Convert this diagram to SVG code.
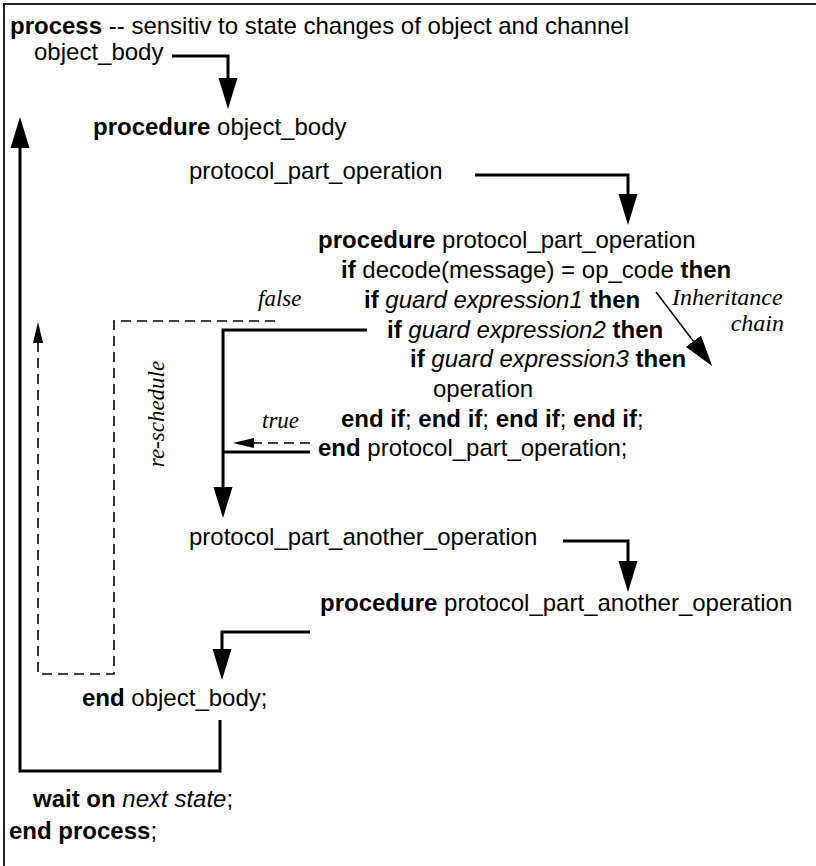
<svg xmlns="http://www.w3.org/2000/svg" width="816" height="866" viewBox="0 0 816 866">
<style>
  text { font-family: "Liberation Sans", Arial, Helvetica, sans-serif; font-size: 24px; fill: #000; }
  .b { font-weight: bold; }
  .i { font-style: italic; }
  .lbl { font-family: "Liberation Serif", "Times New Roman", serif; font-style: italic; font-size: 23px; }
  .lbl.big { font-size: 24px; }
  .frame { fill: none; stroke: #222; stroke-width: 2; }
  .flow { fill: none; stroke: #000; stroke-width: 3; }
  .dash { fill: none; stroke: #000; stroke-width: 1.6; stroke-dasharray: 10 6; }
  .thin { fill: none; stroke: #000; stroke-width: 1.5; }
</style>
<defs>
  <!-- large filled head for the call / return flow -->
  <marker id="big" markerUnits="userSpaceOnUse" markerWidth="31" markerHeight="20" viewBox="0 0 31 20" refX="1" refY="10" orient="auto">
    <path d="M0,0.5 L31,10 L0,19.5 z" fill="#000"/>
  </marker>
  <!-- small head for dashed re-schedule / true paths -->
  <marker id="small" markerUnits="userSpaceOnUse" markerWidth="21" markerHeight="11" viewBox="0 0 21 11" refX="1" refY="5.5" orient="auto">
    <path d="M0,0.5 L21,5.5 L0,10.5 z" fill="#000"/>
  </marker>
  <!-- head for the inheritance chain -->
  <marker id="inh" markerUnits="userSpaceOnUse" markerWidth="31" markerHeight="20" viewBox="0 0 31 20" refX="1" refY="10" orient="auto">
    <path d="M0,0.5 L31,10 L0,19.5 z" fill="#000"/>
  </marker>
</defs>

<rect width="816" height="866" fill="#fff"/>
<!-- page frame (top and left edges) -->
<path class="frame" d="M4,866 V4 H816"/>

<g id="connectors">
  <path class="flow" d="M172,56 H228 V79" marker-end="url(#big)"/>
  <path class="flow" d="M475,175 H628 V195" marker-end="url(#big)"/>
  <path class="flow" d="M367,330 H223 V488" marker-end="url(#big)"/>
  <path class="flow" d="M310,452 H223"/>
  <path class="flow" d="M563,541 H628 V562" marker-end="url(#big)"/>
  <path class="flow" d="M310,632 H222 V650" marker-end="url(#big)"/>
  <path class="flow" d="M220,720 V771 H20 V147" marker-end="url(#big)"/>
  <path class="dash" d="M275,321 H114 V674 H38 V342" marker-end="url(#small)"/>
  <path class="dash" d="M310,443 H253" marker-end="url(#small)"/>
  <path class="thin" d="M656,292 L694,342" marker-end="url(#inh)"/>
</g>

<g id="process-head"><text x="10" y="34"><tspan class="b">process</tspan> -- sensitiv to state changes of object and channel</text></g>
<g id="call-object-body"><text x="34" y="60">object_body</text></g>
<g id="proc-object-body"><text x="93" y="135"><tspan class="b">procedure</tspan> object_body</text></g>
<g id="call-ppo"><text x="189" y="179">protocol_part_operation</text></g>

<g id="proc-ppo">
  <text x="318" y="248"><tspan class="b">procedure</tspan> protocol_part_operation</text>
  <text x="341" y="278"><tspan class="b">if</tspan> decode(message) = op_code <tspan class="b">then</tspan></text>
  <text x="364" y="308"><tspan class="b">if</tspan> <tspan class="i">guard expression1</tspan> <tspan class="b">then</tspan></text>
  <text x="387" y="338"><tspan class="b">if</tspan> <tspan class="i">guard expression2</tspan> <tspan class="b">then</tspan></text>
  <text x="410" y="367"><tspan class="b">if</tspan> <tspan class="i">guard expression3</tspan> <tspan class="b">then</tspan></text>
  <text x="433" y="397">operation</text>
  <text x="341" y="427"><tspan class="b">end if</tspan>; <tspan class="b">end if</tspan>; <tspan class="b">end if</tspan>; <tspan class="b">end if</tspan>;</text>
  <text x="318" y="456"><tspan class="b">end</tspan> protocol_part_operation;</text>
</g>

<g id="call-ppao"><text x="189" y="545">protocol_part_another_operation</text></g>
<g id="proc-ppao"><text x="320" y="611"><tspan class="b">procedure</tspan> protocol_part_another_operation</text></g>
<g id="end-object-body"><text x="82" y="706"><tspan class="b">end</tspan> object_body;</text></g>
<g id="wait"><text x="33" y="807"><tspan class="b">wait on</tspan> <tspan class="i">next state</tspan>;</text></g>
<g id="end-process"><text x="9" y="839"><tspan class="b">end process</tspan>;</text></g>

<g id="labels">
  <text class="lbl" x="258" y="306">false</text>
  <text class="lbl" x="262" y="428">true</text>
  <text class="lbl big" x="672" y="305">Inheritance</text>
  <text class="lbl big" x="784" y="331" text-anchor="end">chain</text>
  <text class="lbl" transform="translate(164,414) rotate(-90)" text-anchor="middle">re-schedule</text>
</g>
</svg>
